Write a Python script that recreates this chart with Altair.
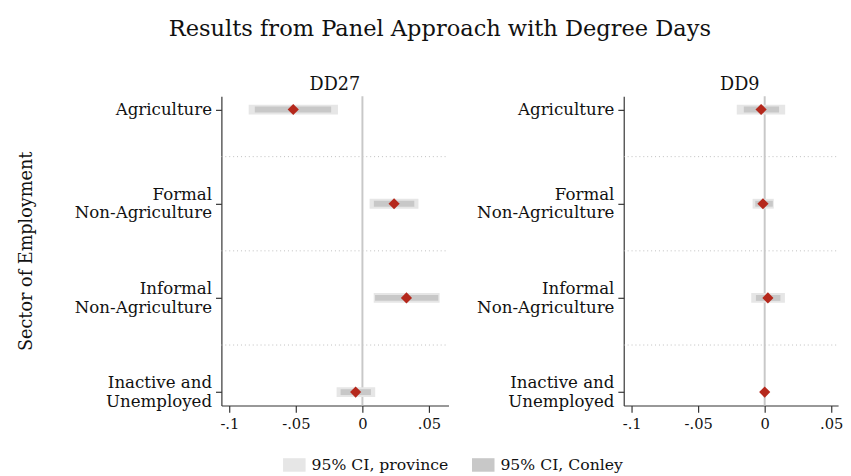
import altair as alt
import pandas as pd
import json

# ---- data ----
sectors = [["Agriculture"], ["Formal", "Non-Agriculture"],
           ["Informal", "Non-Agriculture"], ["Inactive and", "Unemployed"]]
sector_pos = [1, 2, 3, 4]
separators = [1.5, 2.5, 3.5]

dd27_coef = [-0.052, 0.0238, 0.0331, -0.0051]
dd27_prov_lo = [-0.0855, 0.0054, 0.0085, -0.0194]
dd27_prov_hi = [-0.0184, 0.0421, 0.0580, 0.0096]
dd27_conley_lo = [-0.0809, 0.0086, 0.0095, -0.0164]
dd27_conley_hi = [-0.0235, 0.0390, 0.0570, 0.0064]

dd9_coef = [-0.0027, -0.0013, 0.0024, 0.0000]
dd9_prov_lo = [-0.0210, -0.0091, -0.0101, -0.0008]
dd9_prov_hi = [0.0154, 0.0068, 0.0152, 0.0008]
dd9_conley_lo = [-0.0157, -0.0071, -0.0066, -0.0005]
dd9_conley_hi = [0.0108, 0.0061, 0.0118, 0.0005]

x_tick_values = [-0.1, -0.05, 0, 0.05]
x_tick_labels = ["-.1", "-.05", "0", ".05"]

ci_names = ["95% CI, province", "95% CI, Conley"]
ci_colors = ["#e6e6e6", "#c8c8c8"]

FONT = "DejaVu Serif"

y_label_expr = json.dumps(sectors).replace('"', "'") + "[datum.value - 1]"
x_label_expr = ""
for v, l in zip(x_tick_values, x_tick_labels):
    x_label_expr += f"abs(datum.value - ({v})) < 1e-9 ? '{l}' : "
x_label_expr += "''"


def panel(name, coef, plo, phi, clo, chi, xdomain, width, show_title, title_dx):
    df = pd.DataFrame({"pos": sector_pos, "coef": coef})
    prov = pd.DataFrame({"pos": sector_pos, "lo": plo, "hi": phi, "ci": ci_names[0]})
    con = pd.DataFrame({"pos": sector_pos, "lo": clo, "hi": chi, "ci": ci_names[1]})
    sep = pd.DataFrame({"y": separators})

    ysc = alt.Scale(domain=[0.858, 4.142], reverse=True, padding=0, nice=False, zero=False)
    xsc = alt.Scale(domain=xdomain, nice=False, zero=False, padding=0)

    yaxis = alt.Axis(values=sector_pos, labelExpr=y_label_expr, labelFont=FONT,
                     labelFontSize=17, labelColor="#111", labelAlign="right",
                     labelBaseline="middle", labelPadding=4, labelLineHeight=19,
                     labelOffset={"condition": {"test": "datum.value == 1", "value": 0},
                                  "value": -9.5},
                     tickSize=6, grid=False, titleFont=FONT, titleFontSize=18,
                     titleFontWeight="normal", titleColor="#111", titlePadding=40)
    xaxis = alt.Axis(values=x_tick_values, labelExpr=x_label_expr, labelFont=FONT,
                     labelFontSize=15, labelColor="#111", tickSize=7, grid=False,
                     labelPadding=5)

    ytitle = "Sector of Employment" if show_title else None

    seps = alt.Chart(sep).mark_rule(color="#bdbdbd", strokeDash=[1, 3], strokeWidth=1).encode(
        y=alt.Y("y:Q", scale=ysc, axis=yaxis, title=ytitle),
        x=alt.value(0), x2=alt.value(width))
    zero = alt.Chart(pd.DataFrame({"z": [0]})).mark_rule(color="#c8c8c8", strokeWidth=2).encode(
        x=alt.X("z:Q", scale=xsc, axis=xaxis, title=None))
    color = alt.Color("ci:N", scale=alt.Scale(domain=ci_names, range=ci_colors),
                      legend=alt.Legend(title=None, orient="none", direction="horizontal",
                                        legendX=63, legendY=365,
                                        symbolType="M-1,-0.6H1V0.6H-1Z",
                                        symbolSize=529, symbolStrokeWidth=0,
                                        labelFont=FONT, labelFontSize=16, labelColor="#111",
                                        columnPadding=24, labelOffset=6))
    pbar = alt.Chart(prov).mark_bar(orient="horizontal", size=10).encode(
        y=alt.Y("pos:Q", scale=ysc), x=alt.X("lo:Q", scale=xsc), x2="hi:Q", color=color)
    cbar = alt.Chart(con).mark_bar(orient="horizontal", size=6).encode(
        y=alt.Y("pos:Q", scale=ysc), x=alt.X("lo:Q", scale=xsc), x2="hi:Q", color=color)
    pts = alt.Chart(df).mark_point(shape="diamond", filled=True, opacity=1,
                                   color="#b5281c", size=130).encode(
        y=alt.Y("pos:Q", scale=ysc), x=alt.X("coef:Q", scale=xsc))
    return alt.layer(seps, zero, pbar, cbar, pts).properties(
        width=width, height=316,
        title=alt.TitleParams(name, font=FONT, fontSize=18, fontWeight="normal",
                              color="#111", offset=1, dx=title_dx))


left = panel("DD27", dd27_coef, dd27_prov_lo, dd27_prov_hi, dd27_conley_lo, dd27_conley_hi,
             [-0.106, 0.0647], 232, True, 0)
right = panel("DD9", dd9_coef, dd9_prov_lo, dd9_prov_hi, dd9_conley_lo, dd9_conley_hi,
              [-0.106, 0.0552], 219, False, 9)

chart = alt.hconcat(left, right, spacing=27).resolve_scale(color="shared").properties(
    title=alt.TitleParams("Results from Panel Approach with Degree Days", font=FONT,
                          fontSize=23, fontWeight="normal", color="#111",
                          anchor="middle", offset=36, dx=10),
    padding={"left": 9, "top": 6, "right": 0, "bottom": 0}
).configure_view(stroke=None).configure_axis(
    domainColor="#333", tickColor="#333", domainWidth=1.2, tickWidth=1.2
)

chart.save("out.html", embed_options={"renderer": "svg", "actions": False})
